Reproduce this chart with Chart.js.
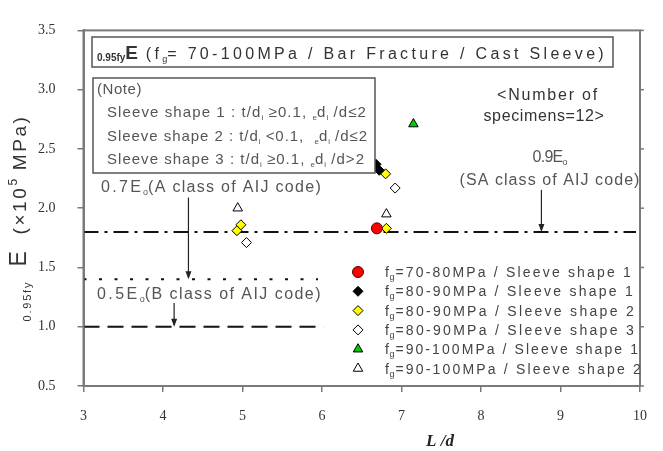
<!DOCTYPE html>
<html><head><meta charset="utf-8">
<script src="https://cdn.jsdelivr.net/npm/chart.js@4/dist/chart.umd.min.js"></script>
<style>html,body{margin:0;padding:0;background:#fff;overflow:hidden}#wrap{width:663px;height:451px;position:relative}</style>
</head><body><div id="wrap"><canvas id="c" width="663" height="451"></canvas></div>
<script>
// ---------- data ----------
const xTicks = [3,4,5,6,7,8,9,10];
const yTicks = [0.5,1.0,1.5,2.0,2.5,3.0,3.5];
const seriesLabels = [
  'fg=70-80MPa / Sleeve shape 1',
  'fg=80-90MPa / Sleeve shape 1',
  'fg=80-90MPa / Sleeve shape 2',
  'fg=80-90MPa / Sleeve shape 3',
  'fg=90-100MPa / Sleeve shape 1',
  'fg=90-100MPa / Sleeve shape 2'
];
const s1X = [6.69];             const s1Y = [1.83];
const s2X = [6.68, 6.72];       const s2Y = [2.37, 2.32];
const s3X = [4.93, 4.98, 6.80, 6.81]; const s3Y = [1.81, 1.86, 2.29, 1.83];
const s4X = [5.05, 6.92];       const s4Y = [1.71, 2.17];
const s5X = [7.15];             const s5Y = [2.71];
const s6X = [4.94, 6.81];       const s6Y = [2.00, 1.95];
// reference lines (E0 = 2.0 x10^5 MPa)
const lineSA = {x:[3, 9.95], y:[1.8, 1.8]};   // 0.9E0
const lineA  = {x:[3, 5.95], y:[1.4, 1.4]};   // 0.7E0
const lineB  = {x:[3, 6.02], y:[1.0, 1.0]};   // 0.5E0

const pts = (xs, ys) => xs.map((x,i)=>({x, y:ys[i]}));

const styles = [
  {pointStyle:'circle',   radius:5.5, bg:'#ff0000', bd:'#550000'},
  {pointStyle:'rectRot',  radius:5,   bg:'#000000', bd:'#000000'},
  {pointStyle:'rectRot',  radius:5,   bg:'#ffff00', bd:'#000000'},
  {pointStyle:'rectRot',  radius:5,   bg:'#ffffff', bd:'#000000'},
  {pointStyle:'triangle', radius:5.5, bg:'#00cc00', bd:'#000000'},
  {pointStyle:'triangle', radius:5.5, bg:'#ffffff', bd:'#000000'}
];
const seriesData = [pts(s1X,s1Y),pts(s2X,s2Y),pts(s3X,s3Y),pts(s4X,s4Y),pts(s5X,s5Y),pts(s6X,s6Y)];

const refLine = (l, dash) => ({
  type:'line', data:pts(l.x,l.y), showLine:true, pointRadius:0, borderColor:'#111',
  borderWidth:2, borderDash:dash, fill:false, order:10
});

const datasets = [
  refLine(lineSA,[15,6,3,6]),
  refLine(lineA,[3,12.5]),
  refLine(lineB,[16,8]),
  ...seriesData.map((d,i)=>({
    type:'scatter', label:seriesLabels[i], data:d,
    pointStyle:styles[i].pointStyle, pointRadius:styles[i].radius,
    backgroundColor:styles[i].bg, borderColor:styles[i].bd, borderWidth:1, order:1
  }))
];

// ---------- rich text helper ----------
function richWidth(ctx, segs, extra){
  let w=0;
  for(const s of segs){ ctx.font=s.font; ctx.letterSpacing=((s.ls||0)+(s.fix?0:extra||0))+'px'; w+=ctx.measureText(s.t).width; }
  return w;
}
function drawRich(ctx, x, y, segs, align, color, target){
  ctx.save();
  ctx.textBaseline='alphabetic';
  let extra=0;
  if(target){
    const w0=richWidth(ctx,segs,0);
    let n=0; for(const s of segs) if(!s.fix) n+=s.t.length;
    extra=(target-w0)/Math.max(1,n);
  }
  const w=richWidth(ctx,segs,extra);
  let cx = align==='center'? x-w/2 : (align==='right'? x-w : x);
  for(const s of segs){
    ctx.font=s.font; ctx.letterSpacing=((s.ls||0)+(s.fix?0:extra))+'px';
    ctx.fillStyle=s.color||color||'#444';
    ctx.textAlign='left';
    ctx.fillText(s.t, cx, y+(s.dy||0));
    cx+=ctx.measureText(s.t).width;
  }
  ctx.restore();
}
const SANS='"Liberation Sans", Arial, sans-serif';

function arrow(ctx, px, py1, py2){
  ctx.save();
  ctx.strokeStyle='#222'; ctx.fillStyle='#222'; ctx.lineWidth=1.2;
  ctx.beginPath(); ctx.moveTo(px,py1); ctx.lineTo(px,py2-2); ctx.stroke();
  ctx.beginPath(); ctx.moveTo(px,py2); ctx.lineTo(px-3,py2-8); ctx.lineTo(px+3,py2-8); ctx.closePath(); ctx.fill();
  ctx.restore();
}

const deco = {
  id:'deco',
  afterDraw(chart){
    const ctx=chart.ctx, xs=chart.scales.x, ys=chart.scales.y, a=chart.chartArea;
    // frame
    ctx.save();
    ctx.strokeStyle='#7a7a7a'; ctx.lineWidth=2;
    ctx.strokeRect(a.left, a.top, a.right-a.left, a.bottom-a.top);
    ctx.lineWidth=1.5;
    for(const v of yTicks){ const p=ys.getPixelForValue(v); ctx.beginPath(); ctx.moveTo(a.right,p); ctx.lineTo(a.right+4,p); ctx.stroke(); }
    ctx.restore();

    // title box
    ctx.save();
    ctx.fillStyle='#fff'; ctx.strokeStyle='#555'; ctx.lineWidth=1.5;
    ctx.fillRect(92,37,521,30); ctx.strokeRect(92,37,521,30);
    ctx.restore();
    drawRich(ctx, 97, 59, [
      {t:'0.95fy', font:'bold 10px '+SANS, dy:2, fix:true},
      {t:'E', font:'bold 19px '+SANS, fix:true},
      {t:' (f', font:'16px '+SANS},
      {t:'g', font:'9px '+SANS, dy:3, fix:true},
      {t:'= 70-100MPa / Bar Fracture / Cast Sleeve)', font:'16px '+SANS}
    ], 'left', '#333', 510);

    // note box
    ctx.save();
    ctx.fillStyle='#fff'; ctx.strokeStyle='#555'; ctx.lineWidth=1.5;
    ctx.fillRect(93,78,282,95); ctx.strokeRect(93,78,282,95);
    ctx.restore();
    const nf='15px '+SANS, sf='8px '+SANS;
    drawRich(ctx, 97, 94, [{t:'(Note)', font:nf}], 'left', '#555', 45);
    const noteLines=[['1','≥0.1,','≤2',260],['2','<0.1, ','≤2',261],['3','≥0.1,','>2',258]];
    noteLines.forEach((n,i)=>{
      drawRich(ctx, 107, 117+i*23.5, [
        {t:'Sleeve shape '+n[0]+' : t/d', font:nf},
        {t:'i', font:sf, dy:3, fix:true},
        {t:' '+n[1]+' ', font:nf},
        {t:'e', font:sf, dy:3, fix:true},
        {t:'d', font:nf},
        {t:'i', font:sf, dy:3, fix:true},
        {t:' /d'+n[2], font:nf}
      ], 'left', '#555', n[3]);
    });

    // annotations
    const af='16px '+SANS, of='9px '+SANS;
    drawRich(ctx, 101, 192, [
      {t:'0.7E', font:af, ls:1},{t:'o', font:of, dy:3, fix:true},{t:'(A class of AIJ code)', font:af}
    ], 'left', '#555', 221);
    drawRich(ctx, 97, 299, [
      {t:'0.5E', font:af, ls:1},{t:'o', font:of, dy:3, fix:true},{t:'(B class of AIJ code)', font:af}
    ], 'left', '#555', 225);
    drawRich(ctx, 550, 162, [{t:'0.9E', font:af},{t:'o', font:of, dy:3, fix:true}], 'center', '#555', 35);
    drawRich(ctx, 550, 185, [{t:'(SA class of AIJ code)', font:af}], 'center', '#555', 181);
    drawRich(ctx, 548, 100, [{t:'<Number of', font:af}], 'center', '#333', 102);
    drawRich(ctx, 544, 121, [{t:'specimens=12>', font:af}], 'center', '#333', 121);

    arrow(ctx, xs.getPixelForValue(4.32), ys.getPixelForValue(2.09), ys.getPixelForValue(1.4));
    arrow(ctx, xs.getPixelForValue(4.14), ys.getPixelForValue(1.20), ys.getPixelForValue(1.0));
    arrow(ctx, xs.getPixelForValue(8.76), ys.getPixelForValue(2.155), ys.getPixelForValue(1.8));

    // legend
    const lf='14px '+SANS;
    const legW=[248,250,251,251,255,258];
    seriesLabels.forEach((lab,i)=>{
      const y=272+i*19.3;
      const st=styles[i];
      ctx.save();
      ctx.fillStyle=st.bg; ctx.strokeStyle=st.bd; ctx.lineWidth=1;
      Chart.helpers.drawPoint(ctx,{pointStyle:st.pointStyle, radius:st.radius, rotation:0, borderWidth:1}, 358, y);
      ctx.restore();
      drawRich(ctx, 385, y+5, [
        {t:'f', font:lf, ls:0.5, fix:true},{t:'g', font:'9px '+SANS, dy:3, ls:1, fix:true},{t:lab.slice(2), font:lf}
      ], 'left', '#444', legW[i]);
    });

    // y axis title (rotated)
    ctx.save();
    ctx.translate(30, 218);
    ctx.rotate(-Math.PI/2);
    drawRich(ctx, 0, 0, [
      {t:'0.95fy', font:'11px '+SANS, dy:1, ls:1},
      {t:'  E', font:'23px '+SANS, dy:-4},
      {t:'  (×10', font:'19px '+SANS, dy:-4, ls:1.8},
      {t:'5', font:'12px '+SANS, dy:-13},
      {t:' MPa)', font:'19px '+SANS, dy:-4, ls:1.8}
    ], 'center', '#333', 207);
    ctx.restore();

    // x axis title
    ctx.save();
    ctx.font='bold italic 17px "Liberation Serif", serif';
    ctx.fillStyle='#222'; ctx.textAlign='center'; ctx.textBaseline='alphabetic';
    ctx.fillText('L /d', 440, 446);
    ctx.restore();
  }
};

new Chart(document.getElementById('c'), {
  type:'scatter',
  data:{datasets},
  options:{
    responsive:false, animation:false, devicePixelRatio:1,
    layout:{padding:{top:27, right:14, left:0, bottom:0}},
    plugins:{legend:{display:false}, tooltip:{enabled:false}},
    scales:{
      x:{
        type:'linear', min:3, max:10,
        afterBuildTicks:(s)=>{ s.ticks = xTicks.map(v=>({value:v})); },
        afterFit:(s)=>{ s.height=65; },
        ticks:{color:'#333', padding:16, font:{family:'"Liberation Serif", serif', size:14}, callback:(v)=>String(v)},
        grid:{drawOnChartArea:false, drawTicks:true, tickLength:6, color:'#7a7a7a', lineWidth:1.5},
        border:{display:true, color:'#7a7a7a', width:2}
      },
      y:{
        type:'linear', min:0.5, max:3.5,
        afterBuildTicks:(s)=>{ s.ticks = yTicks.map(v=>({value:v})); },
        afterFit:(s)=>{ s.width=83.5; },
        ticks:{color:'#333', padding:22, font:{family:'"Liberation Serif", serif', size:14}, callback:(v)=>v.toFixed(1)},
        grid:{drawOnChartArea:false, drawTicks:true, tickLength:6, color:'#7a7a7a', lineWidth:1.5},
        border:{display:true, color:'#7a7a7a', width:2}
      }
    }
  },
  plugins:[deco]
});
</script>
</body></html>
